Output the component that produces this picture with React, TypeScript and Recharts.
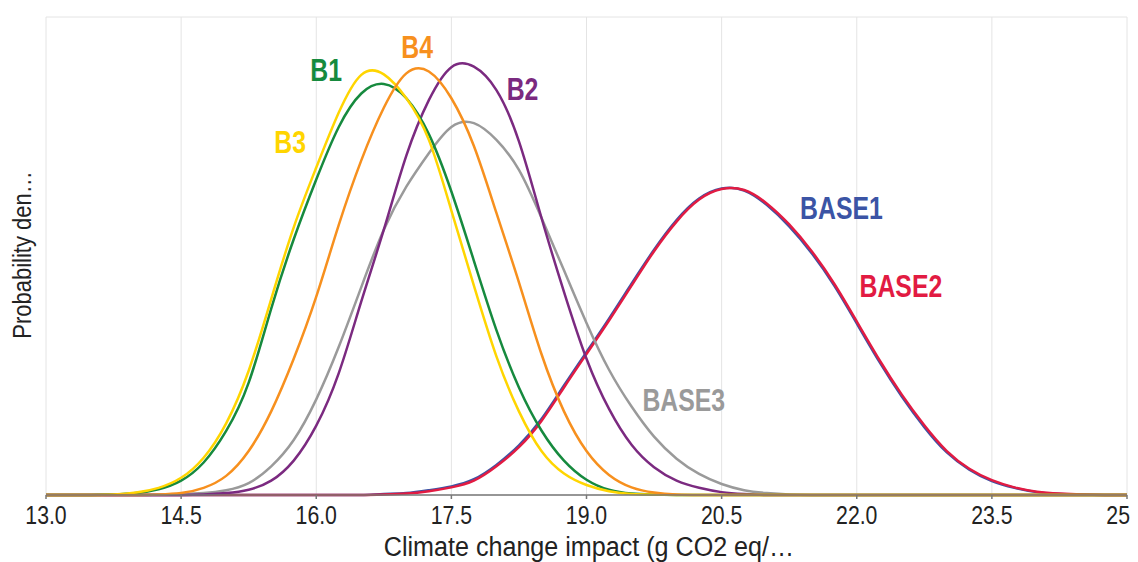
import React from 'react';
import { LineChart, Line, XAxis, YAxis, CartesianGrid, ReferenceDot } from 'recharts';

// impact values (g CO2 eq/...), step 0.25
const impact = [
  13.0, 13.25, 13.5, 13.75, 14.0, 14.25, 14.5, 14.75, 15.0, 15.25, 15.5, 15.75,
  16.0, 16.25, 16.5, 16.75, 17.0, 17.25, 17.5, 17.75, 18.0, 18.25, 18.5, 18.75,
  19.0, 19.25, 19.5, 19.75, 20.0, 20.25, 20.5, 20.75, 21.0, 21.25, 21.5, 21.75,
  22.0, 22.25, 22.5, 22.75, 23.0, 23.25, 23.5, 23.75, 24.0, 24.25, 24.5, 24.75, 25.0,
];

// probability density (one grid step = 1)
const b1 = [
  0, 0, 0, 0.01, 0.04, 0.12, 0.3, 0.68, 1.34, 2.35, 3.9, 5.35,
  6.6, 7.7, 8.4, 8.6, 8.3, 7.55, 6.35, 4.9, 3.45, 2.25, 1.35, 0.72,
  0.32, 0.11, 0.03, 0.01, 0, 0, 0, 0, 0, 0, 0, 0,
  0, 0, 0, 0, 0, 0, 0, 0, 0, 0, 0, 0, 0,
];
const b2 = [
  0, 0, 0, 0, 0, 0, 0, 0.01, 0.04, 0.11, 0.3, 0.72,
  1.45, 2.55, 4.05, 5.55, 7.1, 8.26, 8.95, 8.96, 8.47, 7.4, 5.8, 4.25,
  2.85, 1.8, 1.05, 0.58, 0.3, 0.15, 0.06, 0.02, 0, 0, 0, 0,
  0, 0, 0, 0, 0, 0, 0, 0, 0, 0, 0, 0, 0,
];
const b3 = [
  0, 0, 0, 0.01, 0.05, 0.15, 0.36, 0.78, 1.5, 2.6, 4.1, 5.6,
  6.85, 8.0, 8.79, 8.8, 8.3, 7.43, 5.95, 4.38, 2.9, 1.75, 0.92, 0.45,
  0.21, 0.08, 0.02, 0.01, 0, 0, 0, 0, 0, 0, 0, 0,
  0, 0, 0, 0, 0, 0, 0, 0, 0, 0, 0, 0, 0,
];
const b4 = [
  0, 0, 0, 0, 0, 0.01, 0.04, 0.15, 0.4, 0.92, 1.75, 2.85,
  4.15, 5.65, 7.0, 8.1, 8.82, 8.86, 8.3, 7.3, 5.9, 4.45, 2.95, 1.75,
  0.92, 0.42, 0.16, 0.05, 0.01, 0, 0, 0, 0, 0, 0, 0,
  0, 0, 0, 0, 0, 0, 0, 0, 0, 0, 0, 0, 0,
];
const base1 = [
  0, 0, 0, 0, 0, 0, 0, 0, 0, 0, 0, 0,
  0, 0, 0, 0.02, 0.04, 0.1, 0.18, 0.33, 0.63, 1.04, 1.59, 2.29,
  2.99, 3.69, 4.42, 5.13, 5.75, 6.2, 6.41, 6.37, 6.07, 5.62, 5.06, 4.38,
  3.59, 2.79, 2.06, 1.42, 0.89, 0.53, 0.29, 0.15, 0.06, 0.02, 0.01, 0, 0,
];
const base2 = [
  0, 0, 0, 0, 0, 0, 0, 0, 0, 0, 0, 0,
  0, 0, 0, 0.01, 0.03, 0.08, 0.16, 0.3, 0.6, 1.0, 1.55, 2.25,
  2.95, 3.65, 4.38, 5.1, 5.72, 6.18, 6.4, 6.38, 6.1, 5.66, 5.1, 4.42,
  3.63, 2.83, 2.1, 1.46, 0.92, 0.55, 0.31, 0.16, 0.07, 0.03, 0.01, 0, 0,
];
const base3 = [
  0, 0, 0, 0, 0, 0.01, 0.02, 0.04, 0.1, 0.25, 0.6, 1.15,
  2.0, 3.1, 4.35, 5.55, 6.45, 7.15, 7.7, 7.78, 7.43, 6.8, 5.8, 4.7,
  3.6, 2.62, 1.85, 1.22, 0.76, 0.44, 0.23, 0.1, 0.04, 0.01, 0, 0,
  0, 0, 0, 0, 0, 0, 0, 0, 0, 0, 0, 0, 0,
];

const xTicks = [13.0, 14.5, 16.0, 17.5, 19.0, 20.5, 22.0, 23.5, 25.0];
const yTicks = [0, 1, 2, 3, 4, 5, 6, 7, 8, 9, 10];

const series = [
  { key: 'BASE1', values: base1, color: '#3b54a5', labelX: 21.83, labelY: 6.0 },
  { key: 'BASE2', values: base2, color: '#e21b42', labelX: 22.49, labelY: 4.37 },
  { key: 'BASE3', values: base3, color: '#9a9a9a', labelX: 20.08, labelY: 1.99 },
  { key: 'B2', values: b2, color: '#7b2a80', labelX: 18.29, labelY: 8.49 },
  { key: 'B1', values: b1, color: '#168a3e', labelX: 16.11, labelY: 8.89 },
  { key: 'B3', values: b3, color: '#ffd500', labelX: 15.71, labelY: 7.38 },
  { key: 'B4', values: b4, color: '#f7901e', labelX: 17.12, labelY: 9.38 },
];

const rows = impact.map((x, i) => {
  const row: Record<string, number> = { x };
  series.forEach((s) => {
    row[s.key] = s.values[i];
  });
  return row;
});

const FONT = "'Liberation Sans', Arial, sans-serif";

// narrow-looking tick text (no condensed font installed)
const XTick = (props: any) => {
  const { x, y, payload } = props;
  return (
    <g transform={`translate(${x},${y})`}>
      <text
        transform="scale(0.85,1)"
        textAnchor="middle"
        dy="0.72em"
        fontSize={25}
        fill="#222"
        fontFamily={FONT}
      >
        {Number(payload.value).toFixed(1)}
      </text>
    </g>
  );
};

const seriesLabel = (text: string, color: string) => (props: any) => {
  const vb = props.viewBox || {};
  const cx = (vb.x || 0) + (vb.width || 0) / 2;
  const cy = (vb.y || 0) + (vb.height || 0) / 2;
  return (
    <g transform={`translate(${cx},${cy})`}>
      <text
        transform="scale(0.8,1)"
        textAnchor="middle"
        dy="0.36em"
        fontSize={31}
        fontWeight="bold"
        fill={color}
        fontFamily={FONT}
      >
        {text}
      </text>
    </g>
  );
};

export default function App() {
  return (
    <div style={{ position: 'relative', width: 1130, height: 554, fontFamily: FONT }}>
      <LineChart
        width={1130}
        height={554}
        data={rows}
        margin={{ top: 9, right: 11, left: 38, bottom: 37 }}
      >
        <CartesianGrid stroke="#e4e4e4" strokeWidth={1} />
        <XAxis
          dataKey="x"
          type="number"
          domain={[13, 25]}
          ticks={xTicks}
          interval={0}
          height={30}
          tick={<XTick />}
          tickSize={4}
          tickMargin={7}
          stroke="#777"
          strokeWidth={1.5}
        />
        <YAxis
          type="number"
          domain={[0, 10]}
          ticks={yTicks}
          width={0}
          tick={false}
          tickSize={3}
          stroke="#222"
          strokeWidth={1.5}
        />
        {series.map((s) => (
          <Line
            key={s.key}
            type="natural"
            dataKey={s.key}
            stroke={s.color}
            strokeWidth={2.5}
            dot={false}
            activeDot={false}
            isAnimationActive={false}
          />
        ))}
        {series.map((s) => (
          <ReferenceDot
            key={'lbl-' + s.key}
            x={s.labelX}
            y={s.labelY}
            r={0}
            fill="none"
            stroke="none"
            label={seriesLabel(s.key, s.color)}
          />
        ))}
      </LineChart>
      <div
        style={{
          position: 'absolute',
          left: 589 - 8 - 250,
          width: 500,
          top: 524,
          textAlign: 'center',
          fontSize: 27,
          lineHeight: '30px',
          color: '#222',
          whiteSpace: 'nowrap',
          transform: 'scaleX(0.93)',
        }}
      >
        Climate change impact (g CO2 eq/…
      </div>
      <div
        style={{
          position: 'absolute',
          left: 22 - 8 - 150,
          top: 255 - 8 - 15,
          width: 300,
          height: 30,
          lineHeight: '30px',
          textAlign: 'center',
          fontSize: 25,
          color: '#222',
          whiteSpace: 'nowrap',
          transform: 'rotate(-90deg) scaleX(0.88)',
        }}
      >
        Probability den…
      </div>
    </div>
  );
}
